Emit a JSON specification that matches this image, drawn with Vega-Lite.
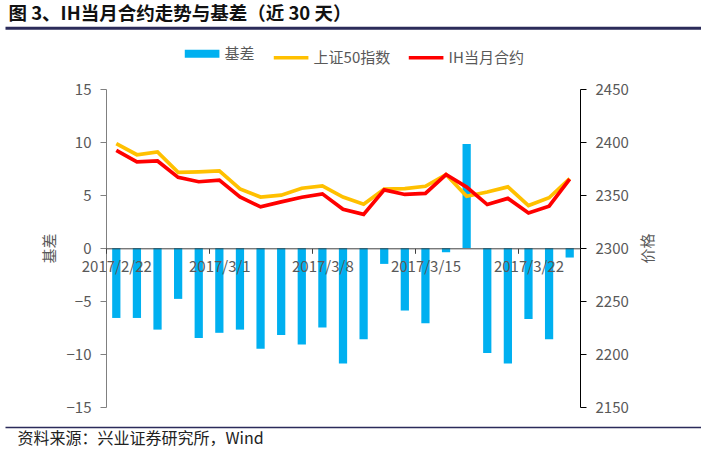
{
  "$schema": "https://vega.github.io/schema/vega-lite/v6.json",
  "width": 474,
  "height": 318,
  "autosize": {"type": "none"},
  "padding": {"left": 106, "top": 89, "right": 121, "bottom": 47},
  "background": "white",
  "config": {
    "view": {"stroke": null},
    "font": "Noto Sans CJK SC",
    "axis": {"labelFont": "Noto Sans CJK SC", "titleFont": "Noto Sans CJK SC", "grid": false}
  },
  "data": {
    "values": [
      {"date": "2017/2/22", "基差": -6.6, "上证50指数": 2398.5, "IH当月合约": 2392.1},
      {"date": "2017/2/23", "基差": -6.6, "上证50指数": 2388.0, "IH当月合约": 2381.3},
      {"date": "2017/2/24", "基差": -7.7, "上证50指数": 2390.7, "IH当月合约": 2382.1},
      {"date": "2017/2/27", "基差": -4.8, "上证50指数": 2371.3, "IH当月合约": 2366.6},
      {"date": "2017/2/28", "基差": -8.5, "上证50指数": 2371.8, "IH当月合约": 2362.5},
      {"date": "2017/3/1", "基差": -8.0, "上证50指数": 2372.7, "IH当月合约": 2364.1},
      {"date": "2017/3/2", "基差": -7.7, "上证50指数": 2355.8, "IH当月合约": 2348.1},
      {"date": "2017/3/3", "基差": -9.5, "上证50指数": 2348.1, "IH当月合约": 2338.8},
      {"date": "2017/3/6", "基差": -8.2, "上证50指数": 2349.8, "IH当月合约": 2343.5},
      {"date": "2017/3/7", "基差": -9.1, "上证50指数": 2356.4, "IH当月合约": 2347.9},
      {"date": "2017/3/8", "基差": -7.5, "上证50指数": 2358.5, "IH当月合约": 2351.1},
      {"date": "2017/3/9", "基差": -10.9, "上证50指数": 2348.0, "IH当月合约": 2336.5},
      {"date": "2017/3/10", "基差": -8.6, "上证50指数": 2341.3, "IH当月合约": 2331.7},
      {"date": "2017/3/13", "基差": -1.5, "上证50指数": 2355.5, "IH当月合约": 2354.8},
      {"date": "2017/3/14", "基差": -5.9, "上证50指数": 2356.0, "IH当月合约": 2350.5},
      {"date": "2017/3/15", "基差": -7.1, "上证50指数": 2358.2, "IH当月合约": 2351.5},
      {"date": "2017/3/16", "基差": -0.4, "上证50指数": 2369.3, "IH当月合约": 2369.3},
      {"date": "2017/3/17", "基差": 9.8, "上证50指数": 2348.8, "IH当月合约": 2357.5},
      {"date": "2017/3/20", "基差": -9.9, "上证50指数": 2352.8, "IH当月合约": 2341.0},
      {"date": "2017/3/21", "基差": -10.9, "上证50指数": 2357.7, "IH当月合约": 2346.8},
      {"date": "2017/3/22", "基差": -6.7, "上证50指数": 2340.0, "IH当月合约": 2333.0},
      {"date": "2017/3/23", "基差": -8.6, "上证50指数": 2347.4, "IH当月合约": 2339.5},
      {"date": "2017/3/24", "基差": -0.9, "上证50指数": 2365.5, "IH当月合约": 2365.0}
    ]
  },
  "layer": [
    {
      "mark": {"type": "bar"},
      "encoding": {
        "x": {
          "field": "date",
          "type": "nominal",
          "sort": null,
          "scale": {"type": "band", "paddingInner": 0.6, "paddingOuter": 0.3},
          "axis": {
            "orient": "bottom",
            "offset": -158.7,
            "zindex": 1,
            "values": ["2017/2/22", "2017/3/1", "2017/3/8", "2017/3/15", "2017/3/22"],
            "labelAngle": 0,
            "bandPosition": 0.5,
            "tickOffset": -10.3,
            "labelOffset": 10.3,
            "domainColor": "#404040",
            "tickColor": "#404040",
            "tickSize": 5,
            "labelPadding": 6,
            "labelFontSize": 15,
            "labelColor": "#595959",
            "title": null
          }
        },
        "y": {
          "field": "基差",
          "type": "quantitative",
          "scale": {"domain": [-15, 15], "nice": false},
          "axis": {
            "orient": "left",
            "values": [-15, -10, -5, 0, 5, 10, 15],
            "title": "基差",
            "titleFontSize": 15,
            "titleFontWeight": "normal",
            "titleColor": "#595959",
            "titlePadding": 9,
            "labelFontSize": 15,
            "labelColor": "#595959",
            "labelPadding": 9,
            "domainColor": "#808080",
            "tickColor": "#808080",
            "tickSize": 6
          }
        },
        "color": {
          "datum": "基差",
          "type": "nominal",
          "scale": {
            "domain": ["基差", "上证50指数", "IH当月合约"],
            "range": ["#00B0F0", "#FFC000", "#FF0000"]
          },
          "legend": {
            "orient": "none",
            "legendX": 88.6,
            "legendY": -43,
            "direction": "horizontal",
            "title": null,
            "padding": 0,
            "symbolType": "stroke",
            "symbolSize": 1200,
            "symbolStrokeWidth": 3.5,
            "labelFontSize": 15,
            "labelColor": "#595959",
            "labelFont": "Noto Sans CJK SC",
            "labelOffset": 15,
            "columnPadding": 11,
            "encode": {
              "symbols": {
                "update": {
                  "strokeWidth": {"signal": "datum.value === '基差' ? 8 : 3.5"},
                  "stroke": {"scale": "color", "field": "value"}
                }
              }
            }
          }
        }
      }
    },
    {
      "transform": [{"fold": ["上证50指数", "IH当月合约"], "as": ["series", "price"]}],
      "mark": {"type": "line", "strokeWidth": 3.7},
      "encoding": {
        "x": {
          "field": "date",
          "type": "nominal",
          "sort": null,
          "scale": {"type": "band", "paddingInner": 0.6, "paddingOuter": 0.3},
          "axis": null
        },
        "y": {
          "field": "price",
          "type": "quantitative",
          "scale": {"domain": [2150, 2450], "nice": false, "zero": false},
          "axis": {
            "orient": "right",
            "values": [2150, 2200, 2250, 2300, 2350, 2400, 2450],
            "format": "d",
            "title": "价格",
            "titleAngle": -90,
            "titleFontSize": 15,
            "titleFontWeight": "normal",
            "titleColor": "#595959",
            "titlePadding": 27,
            "labelFontSize": 15,
            "labelColor": "#595959",
            "labelPadding": 9,
            "domainColor": "#000000",
            "tickColor": "#000000",
            "tickSize": 6
          }
        },
        "color": {
          "field": "series",
          "type": "nominal",
          "legend": {
            "orient": "none",
            "legendX": 88.6,
            "legendY": -43,
            "direction": "horizontal",
            "title": null,
            "padding": 0,
            "symbolType": "stroke",
            "symbolSize": 1200,
            "symbolStrokeWidth": 3.5,
            "labelFontSize": 15,
            "labelColor": "#595959",
            "labelFont": "Noto Sans CJK SC",
            "labelOffset": 15,
            "columnPadding": 11
          }
        }
      }
    },
    {
      "mark": {"type": "point", "opacity": 0},
      "encoding": {
        "x": {
          "field": "基差",
          "type": "quantitative",
          "scale": {"domain": [0, 1], "range": [-101, 595], "nice": false, "zero": false},
          "axis": {
            "orient": "top",
            "offset": 61.3,
            "domainColor": "#2b2b5a",
            "domainWidth": 3,
            "ticks": false,
            "labels": false,
            "grid": false,
            "title": "图 3、IH当月合约走势与基差（近 30 天）",
            "titleX": -98,
            "titleY": -14,
            "titleAlign": "left",
            "titleBaseline": "middle",
            "titleFontSize": 18.5,
            "titleFontWeight": "bold",
            "titleColor": "#111111"
          }
        }
      }
    },
    {
      "mark": {"type": "point", "opacity": 0},
      "encoding": {
        "x": {
          "field": "基差",
          "type": "quantitative",
          "scale": {"domain": [0, 1], "range": [-101, 595], "nice": false, "zero": false},
          "axis": {
            "orient": "bottom",
            "offset": 20,
            "domainColor": "#2b2b5a",
            "domainWidth": 1.5,
            "ticks": false,
            "labels": false,
            "grid": false,
            "title": "资料来源：兴业证券研究所，Wind",
            "titleX": -89,
            "titleY": 11,
            "titleAlign": "left",
            "titleBaseline": "middle",
            "titleFontSize": 16,
            "titleFontWeight": "normal",
            "titleColor": "#222222"
          }
        }
      }
    }
  ],
  "resolve": {
    "scale": {"x": "independent", "y": "independent"},
    "axis": {"x": "independent", "y": "independent"}
  }
}
